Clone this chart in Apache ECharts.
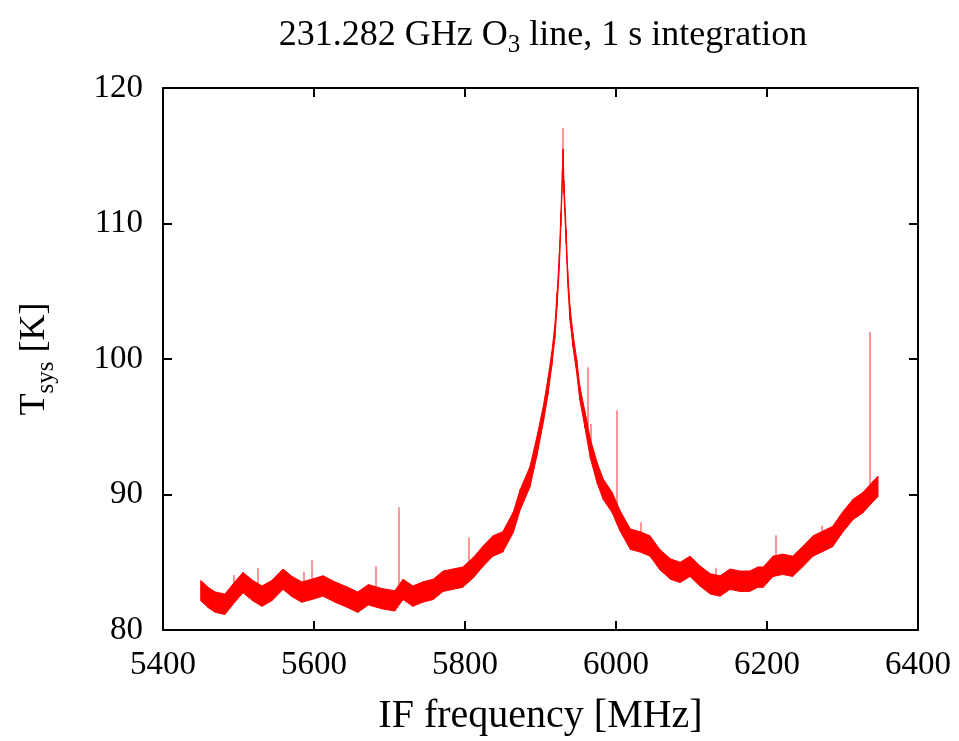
<!DOCTYPE html>
<html>
<head>
<meta charset="utf-8">
<script src="https://cdn.jsdelivr.net/npm/echarts@6/dist/echarts.min.js"></script>
<style>
html,body{margin:0;padding:0;background:#fff;}
#chart{width:959px;height:741px;}
</style>
</head>
<body>
<div id="chart"></div>
<script>
// IF frequency [MHz] and Tsys [K] (centre of the noisy trace)
const freq = [5450,5460,5469,5482,5495,5506,5519,5531,5544,5559,5571,5584,5597,5612,5628,5645,5658,5672,5691,5707,5718,5731,5744,5758,5771,5784,5797,5811,5824,5837,5850,5864,5873,5886,5895,5904,5910,5915,5919,5922,5925,5927,5929,5930,5931,5934,5936,5939,5943,5948,5952,5959,5966,5975,5983,5995,6005,6019,6032,6045,6058,6072,6085,6098,6111,6125,6138,6151,6164,6177,6188,6195,6208,6221,6234,6248,6261,6274,6287,6300,6314,6327,6340,6347];
const tsys = [82.9,82.4,82.06,81.9,82.8,83.5,82.9,82.5,82.9,83.75,83.2,82.8,83.0,83.25,82.8,82.4,82.05,82.6,82.3,82.15,83.0,82.5,82.8,83.0,83.6,83.75,83.9,84.6,85.45,86.2,86.5,87.95,89.6,91.3,93.5,96.0,98.0,100.0,102.0,104.4,107.3,110.3,113.5,115.0,112.7,109.0,106.1,103.4,101.4,99.45,97.5,95.5,93.4,91.6,90.4,89.4,88.1,86.7,86.5,86.2,85.2,84.5,84.25,84.7,84.0,83.4,83.25,83.75,83.6,83.6,83.9,83.9,84.7,84.85,84.7,85.45,86.2,86.55,86.9,87.95,88.9,89.4,90.2,90.6];
// half-width of the noise band [K]
const noise = [0.75,0.75,0.75,0.75,0.75,0.75,0.75,0.75,0.75,0.75,0.75,0.75,0.75,0.75,0.75,0.75,0.75,0.75,0.75,0.75,0.75,0.75,0.75,0.75,0.75,0.75,0.75,0.75,0.75,0.75,0.75,0.75,0.75,0.75,0.7,0.6,0.6,0.5,0.5,0.5,0.5,0.5,0.5,0.5,0.5,0.5,0.5,0.5,0.5,0.5,0.5,0.6,0.7,0.75,0.75,0.75,0.75,0.75,0.75,0.75,0.75,0.75,0.75,0.75,0.75,0.75,0.75,0.75,0.75,0.75,0.75,0.75,0.75,0.75,0.75,0.75,0.75,0.75,0.75,0.75,0.75,0.75,0.75,0.75];
// narrow interference spikes: frequency, trace level, spike top
const spikeFreq = [5494,5526,5587,5597,5682,5712,5805,5930,5962,5966,6001,6033,6132,6212,6273,6336];
const spikeBase = [82.8,82.7,82.9,83.0,82.5,82.5,84.2,115.0,95.0,93.4,88.8,86.5,83.3,84.7,86.5,89.8];
const spikeTop  = [84.05,84.6,84.3,85.15,84.7,89.06,86.8,117.05,99.4,95.2,96.2,87.95,84.6,87.0,87.7,102.0];
// axis ticks
const xTicks = [5400,5600,5800,6000,6200,6400];
const yTicks = [80,90,100,110,120];

const FONT = 'Liberation Serif';
const RED = '#ff0000';
// one quad per segment of the band: [f0, lo0, hi0, f1, lo1, hi1]
const bandData = [];
for (let i = 0; i < freq.length - 1; i++) {
  bandData.push([freq[i], tsys[i]-noise[i], tsys[i]+noise[i], freq[i+1], tsys[i+1]-noise[i+1], tsys[i+1]+noise[i+1]]);
}
const spikeData = spikeFreq.map((f,i)=>({coords:[[f,spikeBase[i]],[f,spikeTop[i]]]}));

function renderBand(params, api) {
  const p = [
    api.coord([api.value(0), api.value(1)]),
    api.coord([api.value(3), api.value(4)]),
    api.coord([api.value(3), api.value(5)]),
    api.coord([api.value(0), api.value(2)])
  ];
  return {type:'polygon', shape:{points:p}, style:{fill:RED, stroke:RED, lineWidth:1}};
}

const chart = echarts.init(document.getElementById('chart'), null, {renderer:'canvas'});
const axisCommon = {
  axisLine:{show:true, onZero:false, lineStyle:{color:'#000', width:2}},
  axisTick:{show:true, inside:true, length:9, lineStyle:{color:'#000', width:2}},
  splitLine:{show:false},
  z:5
};
const plain = v => String(v);
chart.setOption({
  animation:false,
  backgroundColor:'#fff',
  title:{
    text:'{a|231.282 GHz O}{s|3}{a| line, 1 s integration}',
    left:538, top:13, textAlign:'center',
    textStyle:{
      rich:{
        a:{fontFamily:FONT, fontSize:36, fontWeight:'normal', color:'#000', lineHeight:40, verticalAlign:'top'},
        s:{fontFamily:FONT, fontSize:25, fontWeight:'normal', color:'#000', lineHeight:25, verticalAlign:'bottom', padding:[18,0,0,0]}
      }
    }
  },
  grid:{left:163, right:41, top:88, bottom:110, containLabel:false},
  xAxis:[
    Object.assign({type:'value', position:'bottom', min:xTicks[0], max:xTicks[xTicks.length-1], interval:200,
      name:'IF frequency [MHz]', nameLocation:'middle', nameGap:66,
      nameTextStyle:{fontFamily:FONT, fontSize:40, color:'#000'},
      axisLabel:{fontFamily:FONT, fontSize:33, color:'#000', margin:19, formatter:plain}}, axisCommon),
    Object.assign({type:'value', position:'top', min:xTicks[0], max:xTicks[xTicks.length-1], interval:200,
      axisLabel:{show:false}}, axisCommon)
  ],
  yAxis:[
    Object.assign({type:'value', position:'left', min:yTicks[0], max:yTicks[yTicks.length-1], interval:10,
      name:'{a|T}{s|sys}{a| [K]}', nameLocation:'middle', nameGap:104, nameRotate:90,
      nameTextStyle:{rich:{
        a:{fontFamily:FONT, fontSize:36, color:'#000', lineHeight:42, verticalAlign:'top'},
        s:{fontFamily:FONT, fontSize:25, color:'#000', lineHeight:25, verticalAlign:'bottom', padding:[18,0,0,0]}
      }},
      axisLabel:{fontFamily:FONT, fontSize:33, color:'#000', margin:20, formatter:plain}}, axisCommon),
    Object.assign({type:'value', position:'right', min:yTicks[0], max:yTicks[yTicks.length-1], interval:10,
      axisLabel:{show:false}}, axisCommon)
  ],
  series:[
    {type:'custom', data:bandData, renderItem:renderBand, encode:{x:[0,3], y:[1,2,4,5]}, z:2, silent:true},
    {type:'lines', coordinateSystem:'cartesian2d', data:spikeData,
      lineStyle:{color:'rgba(255,0,0,0.55)', width:1.5, opacity:1}, z:3}
  ]
});
</script>
</body>
</html>
